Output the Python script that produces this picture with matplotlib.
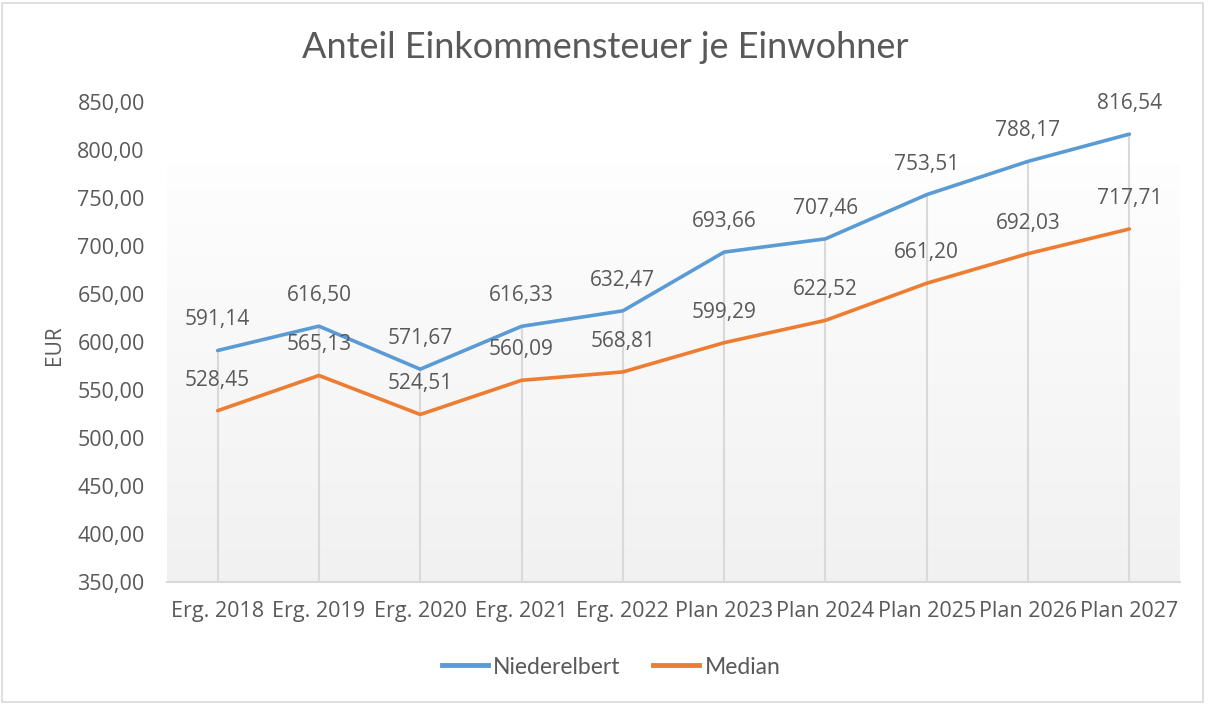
import matplotlib
matplotlib.use("Agg")
import matplotlib.pyplot as plt
import numpy as np
from matplotlib.lines import Line2D

categories = ["Erg. 2018", "Erg. 2019", "Erg. 2020", "Erg. 2021", "Erg. 2022",
              "Plan 2023", "Plan 2024", "Plan 2025", "Plan 2026", "Plan 2027"]
niederelbert = [591.14, 616.50, 571.67, 616.33, 632.47, 693.66, 707.46, 753.51, 788.17, 816.54]
median = [528.45, 565.13, 524.51, 560.09, 568.81, 599.29, 622.52, 661.20, 692.03, 717.71]
yticks = [350, 400, 450, 500, 550, 600, 650, 700, 750, 800, 850]

BLUE = "#5B9BD5"
ORANGE = "#ED7D31"
TXT = "#595959"
NUMFONT = "Open Sans"
TFONT = "Lato"

def fmt(v):
    return f"{v:.2f}".replace(".", ",")

fig = plt.figure(figsize=(12.08, 7.04), dpi=100)
fig.patch.set_facecolor("white")
# outer border
fig.add_artist(plt.Rectangle((2/1208, 2/704), 1201/1208, 699/704, transform=fig.transFigure,
                             fill=False, edgecolor="#d9d9d9", linewidth=1.2))

ax = fig.add_axes([167/1208, 1 - 582/704, (1180 - 167)/1208, 480/704])
ax.set_xlim(-0.5, len(categories) - 0.5)
ax.set_ylim(350, 850)

# gradient background
grad = np.linspace(0, 1, 256).reshape(-1, 1)
top = np.array([0.995, 0.995, 0.995])
bot = np.array([0.945, 0.945, 0.945])
img = top + (bot - top) * grad[..., None]
ax.imshow(img, extent=[0, 1, 0, 0.867], transform=ax.transAxes, aspect="auto", zorder=0)

x = np.arange(len(categories))
# drop lines
ax.vlines(x, 350, np.maximum(niederelbert, median), color="#d9d9d9", linewidth=1.5, zorder=1)

ax.plot(x, niederelbert, color=BLUE, linewidth=2.6, solid_capstyle="round", zorder=3)
ax.plot(x, median, color=ORANGE, linewidth=2.6, solid_capstyle="round", zorder=3)

for xi, v in zip(x, niederelbert):
    ax.annotate(fmt(v), (xi, v), xytext=(0, 22), textcoords="offset points",
                ha="center", va="center", fontsize=15, color=TXT, family=NUMFONT, zorder=4)
for xi, v in zip(x, median):
    ax.annotate(fmt(v), (xi, v), xytext=(0, 22), textcoords="offset points",
                ha="center", va="center", fontsize=15, color=TXT, family=NUMFONT, zorder=4)

for s in ["top", "right", "left"]:
    ax.spines[s].set_visible(False)
ax.spines["bottom"].set_color("#d9d9d9")
ax.spines["bottom"].set_linewidth(1.5)

ax.set_yticks(yticks)
ax.set_yticklabels([fmt(v) for v in yticks], fontsize=15.5, color=TXT, family=NUMFONT)
ax.tick_params(axis="y", length=0, pad=16)
ax.set_xticks(x)
ax.set_xticklabels(categories, fontsize=15.5, color=TXT, family=NUMFONT)
ax.tick_params(axis="x", length=0, pad=14)

fig.text(55/1208, 1 - 345/704, "EUR", rotation=90, ha="center", va="center",
         fontsize=15, color=TXT, family=NUMFONT)

fig.text(605/1208, 1 - 48/704, "Anteil Einkommensteuer je Einwohner", ha="center", va="center",
         fontsize=26, color=TXT, family=TFONT)

handles = [Line2D([], [], color=BLUE, linewidth=3.5),
           Line2D([], [], color=ORANGE, linewidth=3.5)]
leg = fig.legend(handles, ["Niederelbert", "Median"], loc="center",
                 bbox_to_anchor=(611/1208, 1 - 667/704), ncol=2, frameon=False,
                 prop={"family": TFONT, "size": 16.5}, handlelength=2.0, handletextpad=0.25,
                 columnspacing=1.4)
for t in leg.get_texts():
    t.set_color(TXT)

fig.savefig("out.png", dpi=100)
